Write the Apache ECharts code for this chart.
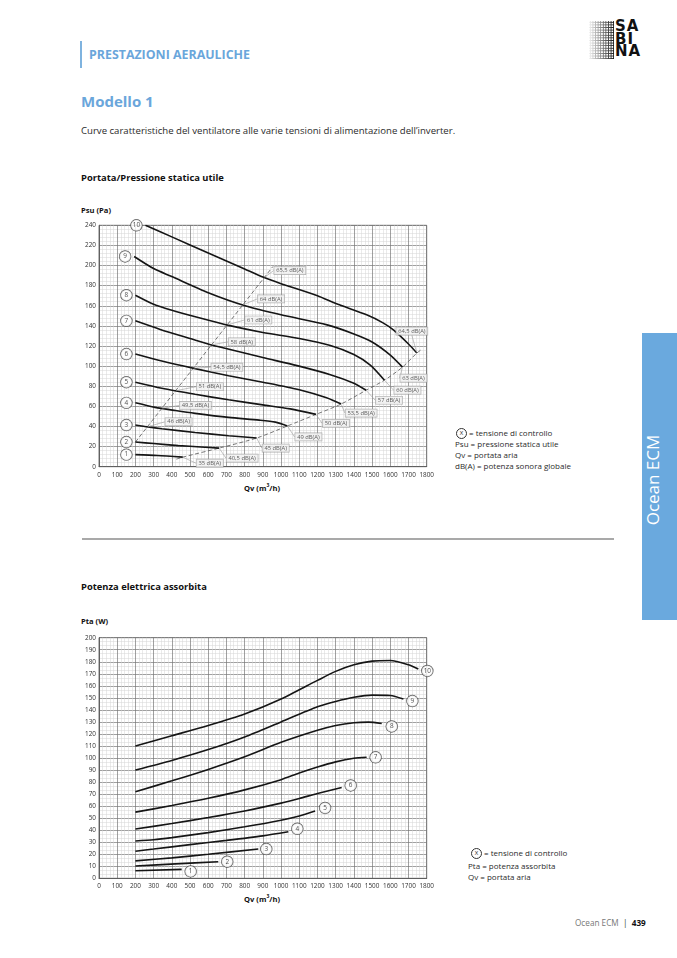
<!DOCTYPE html>
<html>
<head>
<meta charset="utf-8">
<title>Modello 1 - Prestazioni aerauliche</title>
<script src="https://cdn.jsdelivr.net/npm/echarts@6/dist/echarts.min.js"></script>
<style>
body { margin: 0; background: #fff; font-family: "Open Sans", "Noto Sans", sans-serif; color: #2b2b2b; }
#page { position: relative; width: 677px; height: 958px; overflow: hidden; }
#chart { position: absolute; left: 0; top: 0; width: 677px; height: 958px; }
.t { position: absolute; white-space: nowrap; line-height: 1; }
.b { font-weight: bold; }
.blue { color: #6aa6db; }
.ring { display: inline-block; width: 9px; height: 9px; border: 0.8px solid #333; border-radius: 50%;
        font-size: 6px; line-height: 9px; text-align: center; vertical-align: middle; margin-right: 2px; }
#logo-dots { position: absolute; left: 589px; top: 21px; width: 25px; height: 38px;
  background-image: radial-gradient(circle, #111 1px, transparent 1.2px); background-size: 2.6px 2.6px;
  -webkit-mask-image: linear-gradient(to right, rgba(0,0,0,0.05), #000); mask-image: linear-gradient(to right, rgba(0,0,0,0.05), #000); }
#logo-txt { position: absolute; left: 615px; top: 20px; font-family: "DejaVu Sans", sans-serif; font-weight: bold;
  font-size: 15px; line-height: 12.6px; color: #111; letter-spacing: 1px; }
#tab { position: absolute; left: 642px; top: 333px; width: 35px; height: 287px; background: #6aa9de; }
#tab span { position: absolute; left: 10px; top: 147px; transform: translate(-50%, -50%) rotate(-90deg);
  color: #fff; font-size: 17px; white-space: nowrap; }
</style>
</head>
<body>
<div id="page">
  <div style="position:absolute;left:80px;top:41px;width:1.6px;height:27px;background:#7fb3df;"></div>
  <div class="t b blue" style="left:89px;top:49px;font-size:12.4px;">PRESTAZIONI AERAULICHE</div>
  <div id="logo-dots"></div>
  <div id="logo-txt">SA<br>BI<br>NA</div>

  <div class="t b blue" style="left:81px;top:94px;font-size:15px;">Modello 1</div>
  <div class="t" style="left:81px;top:126px;font-size:9.6px;">Curve caratteristiche del ventilatore alle varie tensioni di alimentazione dell’inverter.</div>

  <div class="t b" style="left:81px;top:173px;font-size:9.4px;color:#111;">Portata/Pressione statica utile</div>
  <div class="t b" style="left:81px;top:207px;font-size:7.6px;color:#111;">Psu (Pa)</div>
  <div class="t b" style="left:262px;top:483px;font-size:7.6px;color:#111;transform:translateX(-50%);">Qv (m<sup style="font-size:5px;">3</sup>/h)</div>

  <div class="t" style="left:456px;top:428px;font-size:8px;"><span class="ring">X</span>= tensione di controllo</div>
  <div class="t" style="left:455px;top:440px;font-size:8px;">Psu = pressione statica utile</div>
  <div class="t" style="left:455px;top:451px;font-size:8px;">Qv = portata aria</div>
  <div class="t" style="left:455px;top:462px;font-size:8px;">dB(A) = potenza sonora globale</div>

  <div style="position:absolute;left:82px;top:538px;width:532px;height:2px;background:#a9a9a9;"></div>

  <div class="t b" style="left:81px;top:582px;font-size:9.4px;color:#111;">Potenza elettrica assorbita</div>
  <div class="t b" style="left:81px;top:618px;font-size:7.6px;color:#111;">Pta (W)</div>
  <div class="t b" style="left:262px;top:894px;font-size:7.6px;color:#111;transform:translateX(-50%);">Qv (m<sup style="font-size:5px;">3</sup>/h)</div>

  <div class="t" style="left:471px;top:848px;font-size:8px;"><span class="ring">X</span>= tensione di controllo</div>
  <div class="t" style="left:468px;top:862px;font-size:8px;">Pta = potenza assorbita</div>
  <div class="t" style="left:468px;top:873px;font-size:8px;">Qv = portata aria</div>

  <div id="tab"><span>Ocean ECM</span></div>

  <div class="t" style="left:575px;top:919px;font-size:8.2px;color:#777;">Ocean ECM <span style="color:#333;">&nbsp;|&nbsp;</span> <b style="color:#111;">439</b></div>

  <div id="chart"></div>
</div>

<script>
// portata / pressione statica utile  [Qv m3/h, Psu Pa]
var psuCurve1 = [[200, 12], [320, 11.2], [460, 9.5]];
var psuCurve2 = [[200, 24.5], [300, 23], [436, 21], [560, 19.6], [660, 18.5]];
var psuCurve3 = [[200, 41.4], [270, 39.5], [345, 37.8], [528, 34], [712, 30.8], [866, 28.5]];
var psuCurve4 = [[200, 63.5], [308, 59], [420, 55.8], [528, 53], [712, 49], [880, 46.3], [969, 44.3], [1035, 40.5]];
var psuCurve5 = [[200, 84], [345, 78], [528, 72], [712, 66.5], [900, 61.5], [1050, 57.5], [1192, 52]];
var psuCurve6 = [[200, 112], [345, 105], [528, 97.5], [712, 90.5], [900, 84], [1100, 76.5], [1250, 68.5], [1330, 62.3]];
var psuCurve7 = [[200, 145], [336, 136.5], [519, 126.5], [629, 120.5], [720, 116.5], [900, 108.5], [1088, 100.5], [1271, 91.5], [1400, 83], [1467, 76]];
var psuCurve8 = [[200, 170.5], [300, 161.5], [400, 155.5], [550, 148], [712, 140.5], [900, 133.5], [1100, 127.5], [1271, 120.5], [1400, 111.5], [1490, 101], [1568, 86]];
var psuCurve9 = [[193, 209], [300, 197], [400, 189], [600, 173], [803, 160], [1000, 151], [1253, 141], [1400, 132], [1500, 124], [1600, 111], [1667, 99]];
var psuCurve10 = [[255, 240], [400, 228.5], [600, 212.5], [800, 196.5], [900, 188.5], [1000, 182], [1200, 170], [1305, 162], [1470, 151], [1560, 143], [1617, 136], [1700, 122], [1746, 113]];
var psuCurves = [psuCurve1, psuCurve2, psuCurve3, psuCurve4, psuCurve5, psuCurve6, psuCurve7, psuCurve8, psuCurve9, psuCurve10];

// dashed iso-noise lines
var dashLeft = [[200, 24.5], [955, 199]];
var dashRightStart = [425, 7.5];
var dashRightEnd = [1775, 117];

var dbRightText = ['35 dB(A)', '40,5 dB(A)', '45 dB(A)', '49 dB(A)', '50 dB(A)', '53,5 dB(A)', '57 dB(A)', '60 dB(A)', '63 dB(A)', '64,5 dB(A)'];
var dbLeftText = ['46 dB(A)', '49,5 dB(A)', '51 dB(A)', '54,5 dB(A)', '58 dB(A)', '61 dB(A)', '64 dB(A)', '65,5 dB(A)'];

// potenza elettrica assorbita  [Qv m3/h, Pta W]
var ptaCurve1 = [[200, 6.3], [454, 7.4]];
var ptaCurve2 = [[200, 10.2], [420, 12], [655, 13.8]];
var ptaCurve3 = [[200, 14.5], [400, 17], [600, 20], [875, 24.3]];
var ptaCurve4 = [[200, 22.5], [300, 24.3], [500, 28], [700, 31.5], [900, 35.3], [1040, 38.7]];
var ptaCurve5 = [[200, 31], [300, 32], [400, 33.8], [600, 38], [800, 42.8], [1000, 48.3], [1100, 51.8], [1187, 56]];
var ptaCurve6 = [[200, 41], [400, 45.5], [600, 50.5], [800, 56], [1000, 62.5], [1100, 66.3], [1200, 70.5], [1333, 75.5]];
var ptaCurve7 = [[200, 55], [400, 60.5], [600, 66.5], [800, 73.5], [1000, 82], [1100, 87.5], [1200, 92.5], [1300, 96.8], [1400, 99.8], [1470, 100.6]];
var ptaCurve8 = [[200, 72], [400, 81], [600, 90.5], [800, 101], [1000, 113], [1200, 123], [1300, 127], [1400, 129.3], [1480, 129.8], [1553, 128.7]];
var ptaCurve9 = [[200, 90], [400, 98], [600, 107], [800, 117.5], [1000, 130], [1200, 142.5], [1300, 147], [1400, 150.5], [1500, 152.3], [1600, 152], [1672, 149]];
var ptaCurve10 = [[200, 110], [400, 118.5], [600, 127], [800, 136.5], [1000, 149], [1200, 164.5], [1300, 172], [1400, 177.5], [1500, 180.5], [1600, 181], [1700, 177.5], [1754, 174]];
var ptaCurves = [ptaCurve1, ptaCurve2, ptaCurve3, ptaCurve4, ptaCurve5, ptaCurve6, ptaCurve7, ptaCurve8, ptaCurve9, ptaCurve10];

var curveNames = ['1', '2', '3', '4', '5', '6', '7', '8', '9', '10'];

// label placement (px, relative to anchor point)
var dbLeftOffset = [[18, -5], [18, -3], [21, -4], [18, -1], [17, -3], [18, -5], [15, -6], [10, -7]];
var dbRightOffset = [[27, 6], [23, 10], [19, 10], [21, 11], [20, 9], [20, 9], [23, 10], [23, 10], [11, 11], [-5, -22]];
var ptaRingOffset = [[0, 2], [0, 0], [-1, 0], [0, -3], [1, -3], [0, -2], [0, 0], [1, 3], [0, 2], [0, 2]];

function crossLine(curve, a, b) {
    var k = (b[1] - a[1]) / (b[0] - a[0]);
    for (var i = 0; i < curve.length - 1; i++) {
        var p = curve[i], q = curve[i + 1];
        var d1 = p[1] - (a[1] + (p[0] - a[0]) * k);
        var d2 = q[1] - (a[1] + (q[0] - a[0]) * k);
        if ((d1 > 0 && d2 <= 0) || (d1 < 0 && d2 >= 0)) {
            var t = d1 / (d1 - d2);
            return [p[0] + t * (q[0] - p[0]), p[1] + t * (q[1] - p[1])];
        }
    }
    return null;
}

var leftAnchors = [];
for (var i = 2; i < psuCurves.length; i++) {
    leftAnchors.push(crossLine(psuCurves[i], dashLeft[0], dashLeft[1]));
}
var rightAnchors = psuCurves.map(function (c) { return c[c.length - 1]; });
var psuStarts = psuCurves.map(function (c) { return c[0]; });
var ptaEnds = ptaCurves.map(function (c) { return c[c.length - 1]; });

var AXIS_FONT = '"Open Sans", sans-serif';

function xAxisOf(gridIndex) {
    return {
        gridIndex: gridIndex, type: 'value', min: 0, max: 1800, interval: 100,
        axisLine: { show: true, onZero: false, lineStyle: { color: '#555', width: 0.8 } },
        axisTick: { show: false },
        axisLabel: { fontSize: 6.4, color: '#333', margin: 5, fontFamily: AXIS_FONT, showMaxLabel: true,
            formatter: function (v) { return String(v); } },
        splitLine: { show: true, lineStyle: { color: '#777', width: 0.7 } },
        minorTick: { show: false, splitNumber: 5 },
        minorSplitLine: { show: true, lineStyle: { color: '#d4d4d4', width: 0.5 } }
    };
}

function yAxisOf(gridIndex, max, interval, minor) {
    return {
        gridIndex: gridIndex, type: 'value', min: 0, max: max, interval: interval,
        axisLine: { show: true, lineStyle: { color: '#555', width: 0.8 } },
        axisTick: { show: false },
        axisLabel: { fontSize: 6.4, color: '#333', margin: 3, fontFamily: AXIS_FONT },
        splitLine: { show: true, lineStyle: { color: '#777', width: 0.7 } },
        minorTick: { show: false, splitNumber: minor },
        minorSplitLine: { show: true, lineStyle: { color: '#d4d4d4', width: 0.5 } }
    };
}

var ringLabel = {
    show: true, align: 'center', verticalAlign: 'middle',
    fontSize: 6.4, fontFamily: AXIS_FONT, color: '#222',
    backgroundColor: '#fff', borderColor: '#333', borderWidth: 0.7, borderRadius: 6,
    width: 11, height: 11, lineHeight: 11, padding: 0
};

var dbLabel = {
    show: true, fontSize: 5.8, fontFamily: AXIS_FONT, color: '#333',
    backgroundColor: '#f1f1f1', borderColor: '#9a9a9a', borderWidth: 0.6, padding: [1, 2, 0.5, 2]
};

var series = [];

psuCurves.forEach(function (c, i) {
    series.push({
        name: 'Psu ' + curveNames[i], type: 'line', xAxisIndex: 0, yAxisIndex: 0,
        data: c, showSymbol: false, smooth: 0.25, z: 3,
        lineStyle: { color: '#151515', width: 1.6 }
    });
});

series.push({
    type: 'line', xAxisIndex: 0, yAxisIndex: 0, data: dashLeft, showSymbol: false, z: 2,
    lineStyle: { color: '#555', width: 0.8, type: [4, 2.5] }
});
series.push({
    type: 'line', xAxisIndex: 0, yAxisIndex: 0, showSymbol: false, smooth: 0.25, z: 2,
    data: [dashRightStart].concat(rightAnchors).concat([dashRightEnd]),
    lineStyle: { color: '#555', width: 0.8, type: [4, 2.5] }
});

series.push({
    type: 'scatter', xAxisIndex: 0, yAxisIndex: 0, data: leftAnchors, symbolSize: 1, z: 6,
    itemStyle: { color: 'rgba(0,0,0,0)' },
    label: Object.assign({ formatter: function (p) { return dbLeftText[p.dataIndex]; } }, dbLabel),
    labelLine: { show: true, lineStyle: { color: '#999', width: 0.6 } },
    labelLayout: function (p) {
        var o = dbLeftOffset[p.dataIndex];
        return { x: p.rect.x + p.rect.width / 2 + o[0], y: p.rect.y + p.rect.height / 2 + o[1], align: 'left', verticalAlign: 'middle' };
    }
});

series.push({
    type: 'scatter', xAxisIndex: 0, yAxisIndex: 0, data: rightAnchors, symbolSize: 1, z: 6,
    itemStyle: { color: 'rgba(0,0,0,0)' },
    label: Object.assign({ formatter: function (p) { return dbRightText[p.dataIndex]; } }, dbLabel),
    labelLine: { show: true, lineStyle: { color: '#999', width: 0.6 } },
    labelLayout: function (p) {
        var o = dbRightOffset[p.dataIndex];
        return { x: p.rect.x + p.rect.width / 2 + o[0], y: p.rect.y + p.rect.height / 2 + o[1], align: 'center', verticalAlign: 'middle' };
    }
});

series.push({
    type: 'scatter', xAxisIndex: 0, yAxisIndex: 0, data: psuStarts, symbolSize: 0, z: 7,
    label: Object.assign({ position: 'left', distance: 9, formatter: function (p) { return curveNames[p.dataIndex]; } }, ringLabel)
});

ptaCurves.forEach(function (c, i) {
    series.push({
        name: 'Pta ' + curveNames[i], type: 'line', xAxisIndex: 1, yAxisIndex: 1,
        data: c, showSymbol: false, smooth: 0.25, z: 3,
        lineStyle: { color: '#151515', width: 1.6 }
    });
});

series.push({
    type: 'scatter', xAxisIndex: 1, yAxisIndex: 1, symbolSize: 0, z: 7,
    data: ptaEnds.map(function (p, i) {
        return { value: p, label: { offset: ptaRingOffset[i] } };
    }),
    label: Object.assign({ position: 'right', distance: 9, formatter: function (p) { return curveNames[p.dataIndex]; } }, ringLabel)
});

var option = {
    animation: false,
    grid: [
        { left: 99, top: 225.3, width: 327.7, height: 241.4, show: true, borderColor: '#555', borderWidth: 0.8 },
        { left: 99, top: 637.7, width: 327.7, height: 240.6, show: true, borderColor: '#555', borderWidth: 0.8 }
    ],
    xAxis: [xAxisOf(0), xAxisOf(1)],
    yAxis: [yAxisOf(0, 240, 20, 5), yAxisOf(1, 200, 10, 3)],
    series: series
};

var myChart = echarts.init(document.querySelector('#chart'), null, { renderer: 'canvas' });
myChart.setOption(option);
</script>
</body>
</html>
